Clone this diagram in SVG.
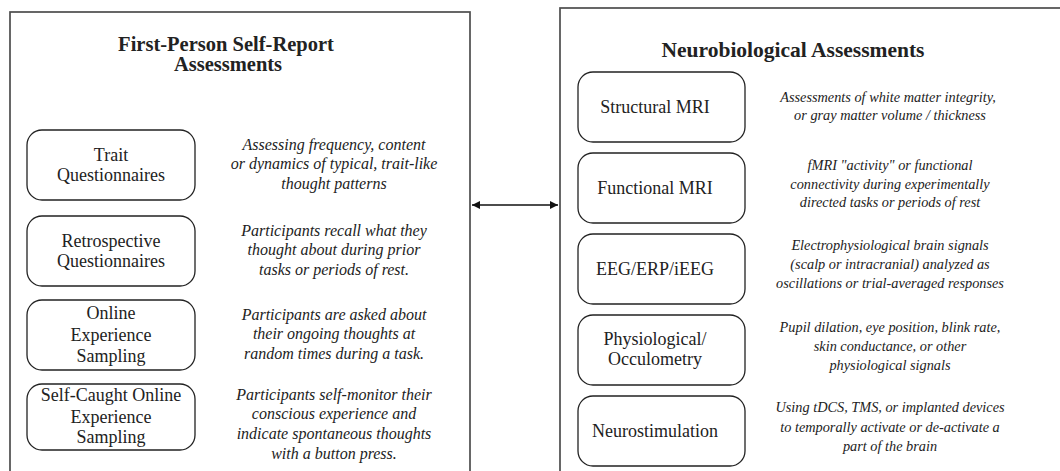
<svg xmlns="http://www.w3.org/2000/svg" width="1060" height="471" viewBox="0 0 1060 471">
<defs>
<style>
.panel{fill:#fff;stroke:#4d4d4d;stroke-width:1.7}
.box{fill:#fff;stroke:#222;stroke-width:1.3}
.title{font-family:"Liberation Serif",serif;font-weight:bold;font-size:20.5px;fill:#222;text-anchor:middle}
.titler{font-size:21.5px}
.lbl{font-family:"Liberation Serif",serif;font-size:18px;fill:#222;text-anchor:middle}
.desc{font-family:"Liberation Serif",serif;font-style:italic;font-size:16px;fill:#222;text-anchor:middle}
.descr{font-family:"Liberation Serif",serif;font-style:italic;font-size:14.3px;fill:#222;text-anchor:middle}
.conn{stroke:#111;stroke-width:1.5;fill:none}
</style>
<marker id="ah" viewBox="0 0 10 10" refX="10" refY="5" markerWidth="10" markerHeight="8" markerUnits="userSpaceOnUse" orient="auto-start-reverse">
<path d="M0,0 L10,5 L0,10 z" fill="#111"/>
</marker>
</defs>
<rect width="1060" height="471" fill="#fff"/>

<g id="panel-left">
<rect class="panel" x="10" y="12" width="460" height="480"/>
<text class="title" x="226" y="51">First-Person Self-Report</text>
<text class="title" x="228" y="71">Assessments</text>
</g>
<g id="panel-right">
<rect class="panel" x="560" y="8" width="520" height="480"/>
<text class="title titler" x="793" y="57">Neurobiological Assessments</text>
</g>

<g id="connectors">
<line class="conn" x1="472" y1="205" x2="558" y2="205" marker-start="url(#ah)" marker-end="url(#ah)"/>
</g>

<g id="trait">
<rect class="box" x="27" y="130" width="168" height="70" rx="15"/>
<text class="lbl" x="111" y="161">Trait</text>
<text class="lbl" x="111" y="181">Questionnaires</text>
<text class="desc" x="334" y="150">Assessing frequency, content</text>
<text class="desc" x="334" y="169">or dynamics of typical, trait-like</text>
<text class="desc" x="334" y="189">thought patterns</text>
</g>
<g id="retrospective">
<rect class="box" x="27" y="216" width="168" height="70" rx="15"/>
<text class="lbl" x="111" y="247">Retrospective</text>
<text class="lbl" x="111" y="267">Questionnaires</text>
<text class="desc" x="334" y="236">Participants recall what they</text>
<text class="desc" x="334" y="255">thought about during prior</text>
<text class="desc" x="334" y="275">tasks or periods of rest.</text>
</g>
<g id="online">
<rect class="box" x="27" y="300" width="168" height="70" rx="15"/>
<text class="lbl" x="111" y="319">Online</text>
<text class="lbl" x="111" y="341">Experience</text>
<text class="lbl" x="111" y="362">Sampling</text>
<text class="desc" x="334" y="320">Participants are asked about</text>
<text class="desc" x="334" y="339">their ongoing thoughts at</text>
<text class="desc" x="334" y="359">random times during a task.</text>
</g>
<g id="selfcaught">
<rect class="box" x="27" y="384" width="168" height="66" rx="15"/>
<text class="lbl" x="111" y="401">Self-Caught Online</text>
<text class="lbl" x="111" y="423">Experience</text>
<text class="lbl" x="111" y="443">Sampling</text>
<text class="desc" x="334" y="400">Participants self-monitor their</text>
<text class="desc" x="334" y="419">conscious experience and</text>
<text class="desc" x="334" y="439">indicate spontaneous thoughts</text>
<text class="desc" x="334" y="459">with a button press.</text>
</g>

<g id="structural">
<rect class="box" x="578" y="72" width="167" height="70" rx="15"/>
<text class="lbl" x="655" y="113">Structural MRI</text>
<text class="descr" x="888" y="102">Assessments of white matter integrity,</text>
<text class="descr" x="890" y="120">or gray matter volume / thickness</text>
</g>
<g id="functional">
<rect class="box" x="578" y="153" width="167" height="70" rx="15"/>
<text class="lbl" x="655" y="194">Functional MRI</text>
<text class="descr" x="890" y="170">fMRI "activity" or functional</text>
<text class="descr" x="890" y="189">connectivity during experimentally</text>
<text class="descr" x="890" y="207">directed tasks or periods of rest</text>
</g>
<g id="eeg">
<rect class="box" x="578" y="234" width="167" height="70" rx="15"/>
<text class="lbl" x="655" y="275">EEG/ERP/iEEG</text>
<text class="descr" x="890" y="250">Electrophysiological brain signals</text>
<text class="descr" x="890" y="269">(scalp or intracranial) analyzed as</text>
<text class="descr" x="890" y="288">oscillations or trial-averaged responses</text>
</g>
<g id="physiological">
<rect class="box" x="578" y="315" width="167" height="70" rx="15"/>
<text class="lbl" x="655" y="345">Physiological/</text>
<text class="lbl" x="655" y="365">Occulometry</text>
<text class="descr" x="890" y="332">Pupil dilation, eye position, blink rate,</text>
<text class="descr" x="890" y="351">skin conductance, or other</text>
<text class="descr" x="890" y="370">physiological signals</text>
</g>
<g id="neurostimulation">
<rect class="box" x="578" y="396" width="167" height="70" rx="15"/>
<text class="lbl" x="655" y="437">Neurostimulation</text>
<text class="descr" x="890" y="412">Using tDCS, TMS, or implanted devices</text>
<text class="descr" x="890" y="432">to temporally activate or de-activate a</text>
<text class="descr" x="890" y="451">part of the brain</text>
</g>
</svg>
